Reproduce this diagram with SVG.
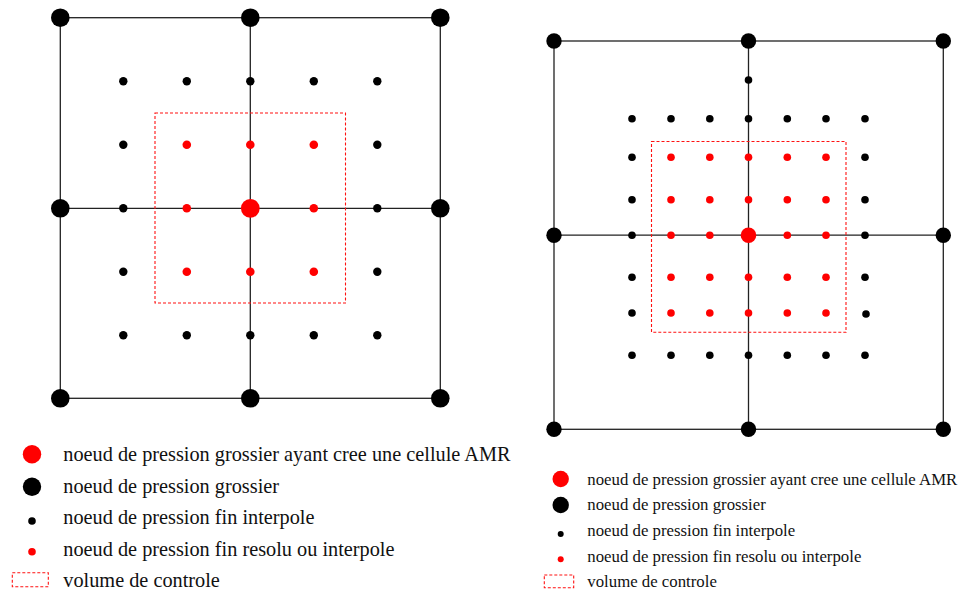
<svg xmlns="http://www.w3.org/2000/svg" width="959" height="592" viewBox="0 0 959 592">
<style>
.ln{stroke:#222;stroke-width:1.3;fill:none}
.cv{stroke:#f11;stroke-width:1.1;fill:none;stroke-dasharray:3 2}
.bk{fill:#000}
.rd{fill:#f00}
.t1{font-family:"Liberation Serif","Times New Roman",serif;font-size:20.3px;fill:#111}
.t2{font-family:"Liberation Serif","Times New Roman",serif;font-size:16.8px;fill:#111}
</style>
<rect width="959" height="592" fill="#fff"/>

<!-- LEFT DIAGRAM -->
<g id="left-grid">
  <rect class="ln" x="60.3" y="17.7" width="380" height="380.6"/>
  <line class="ln" x1="250.3" y1="17.7" x2="250.3" y2="398.3"/>
  <line class="ln" x1="60.3" y1="208.3" x2="440.3" y2="208.3"/>
</g>
<g id="left-control-volume">
  <rect class="cv" x="155" y="113" width="190.5" height="190"/>
</g>
<g id="left-fine-interpolated">
  <circle class="bk" cx="123.3" cy="81.3" r="4.2"/><circle class="bk" cx="186.8" cy="81.3" r="4.2"/><circle class="bk" cx="250.3" cy="81.3" r="4.2"/><circle class="bk" cx="313.8" cy="81.3" r="4.2"/><circle class="bk" cx="377.3" cy="81.3" r="4.2"/>
  <circle class="bk" cx="123.3" cy="144.8" r="4.2"/><circle class="bk" cx="377.3" cy="144.8" r="4.2"/>
  <circle class="bk" cx="123.3" cy="208.3" r="4.2"/><circle class="bk" cx="377.3" cy="208.3" r="4.2"/>
  <circle class="bk" cx="123.3" cy="271.8" r="4.2"/><circle class="bk" cx="377.3" cy="271.8" r="4.2"/>
  <circle class="bk" cx="123.3" cy="335.3" r="4.2"/><circle class="bk" cx="186.8" cy="335.3" r="4.2"/><circle class="bk" cx="250.3" cy="335.3" r="4.2"/><circle class="bk" cx="313.8" cy="335.3" r="4.2"/><circle class="bk" cx="377.3" cy="335.3" r="4.2"/>
</g>
<g id="left-fine-resolved">
  <circle class="rd" cx="186.8" cy="144.8" r="4.3"/><circle class="rd" cx="250.3" cy="144.8" r="4.3"/><circle class="rd" cx="313.8" cy="144.8" r="4.3"/>
  <circle class="rd" cx="186.8" cy="208.3" r="4.3"/><circle class="rd" cx="313.8" cy="208.3" r="4.3"/>
  <circle class="rd" cx="186.8" cy="271.8" r="4.3"/><circle class="rd" cx="250.3" cy="271.8" r="4.3"/><circle class="rd" cx="313.8" cy="271.8" r="4.3"/>
</g>
<g id="left-coarse">
  <circle class="bk" cx="60.3" cy="17.7" r="9.3"/><circle class="bk" cx="250.3" cy="17.7" r="9.3"/><circle class="bk" cx="440.3" cy="17.7" r="9.3"/>
  <circle class="bk" cx="60.3" cy="208.3" r="9.3"/><circle class="bk" cx="440.3" cy="208.3" r="9.3"/>
  <circle class="bk" cx="60.3" cy="398.3" r="9.3"/><circle class="bk" cx="250.3" cy="398.3" r="9.3"/><circle class="bk" cx="440.3" cy="398.3" r="9.3"/>
</g>
<g id="left-amr-node">
  <circle class="rd" cx="250.3" cy="208.3" r="9.4"/>
</g>

<!-- RIGHT DIAGRAM -->
<g id="right-grid">
  <rect class="ln" x="554" y="41" width="389.3" height="388.3"/>
  <line class="ln" x1="748.5" y1="41" x2="748.5" y2="429.3"/>
  <line class="ln" x1="554" y1="235.2" x2="943.3" y2="235.2"/>
</g>
<g id="right-control-volume">
  <rect class="cv" x="651.5" y="141.5" width="194.5" height="190.8"/>
</g>
<g id="right-fine-interpolated">
  <circle class="bk" cx="748.5" cy="80" r="3.8"/>
  <circle class="bk" cx="632" cy="118.7" r="3.8"/><circle class="bk" cx="671" cy="118.7" r="3.8"/><circle class="bk" cx="709.8" cy="118.7" r="3.8"/><circle class="bk" cx="748.5" cy="118.7" r="3.8"/><circle class="bk" cx="787.3" cy="118.7" r="3.8"/><circle class="bk" cx="826" cy="118.7" r="3.8"/><circle class="bk" cx="865" cy="118.7" r="3.8"/>
  <circle class="bk" cx="632" cy="157.3" r="3.8"/><circle class="bk" cx="865" cy="157.3" r="3.8"/>
  <circle class="bk" cx="632" cy="199.7" r="3.8"/><circle class="bk" cx="865" cy="199.7" r="3.8"/>
  <circle class="bk" cx="632" cy="235.2" r="3.8"/><circle class="bk" cx="865" cy="235.2" r="3.8"/>
  <circle class="bk" cx="632" cy="277.3" r="3.8"/><circle class="bk" cx="865" cy="277.3" r="3.8"/>
  <circle class="bk" cx="632" cy="313" r="3.8"/><circle class="bk" cx="866" cy="314" r="3.8"/>
  <circle class="bk" cx="632" cy="355.3" r="3.8"/><circle class="bk" cx="671" cy="355.3" r="3.8"/><circle class="bk" cx="709.8" cy="355.3" r="3.8"/><circle class="bk" cx="748.5" cy="355.3" r="3.8"/><circle class="bk" cx="787.3" cy="355.3" r="3.8"/><circle class="bk" cx="826" cy="355.3" r="3.8"/><circle class="bk" cx="865" cy="355.3" r="3.8"/>
</g>
<g id="right-fine-resolved">
  <circle class="rd" cx="671" cy="157.3" r="3.8"/><circle class="rd" cx="709.8" cy="157.3" r="3.8"/><circle class="rd" cx="748.5" cy="157.3" r="3.8"/><circle class="rd" cx="787.3" cy="157.3" r="3.8"/><circle class="rd" cx="826" cy="157.3" r="3.8"/>
  <circle class="rd" cx="671" cy="199.7" r="3.8"/><circle class="rd" cx="709.8" cy="199.7" r="3.8"/><circle class="rd" cx="748.5" cy="199.7" r="3.8"/><circle class="rd" cx="787.3" cy="199.7" r="3.8"/><circle class="rd" cx="826" cy="199.7" r="3.8"/>
  <circle class="rd" cx="671" cy="235.2" r="3.8"/><circle class="rd" cx="709.8" cy="235.2" r="3.8"/><circle class="rd" cx="787.3" cy="235.2" r="3.8"/><circle class="rd" cx="826" cy="235.2" r="3.8"/>
  <circle class="rd" cx="671" cy="277.3" r="3.8"/><circle class="rd" cx="709.8" cy="277.3" r="3.8"/><circle class="rd" cx="748.5" cy="277.3" r="3.8"/><circle class="rd" cx="787.3" cy="277.3" r="3.8"/><circle class="rd" cx="826" cy="277.3" r="3.8"/>
  <circle class="rd" cx="671" cy="313" r="3.8"/><circle class="rd" cx="709.8" cy="313" r="3.8"/><circle class="rd" cx="748.5" cy="313" r="3.8"/><circle class="rd" cx="787.3" cy="313" r="3.8"/><circle class="rd" cx="826" cy="313" r="3.8"/>
</g>
<g id="right-coarse">
  <circle class="bk" cx="554" cy="41" r="7.7"/><circle class="bk" cx="748.5" cy="41" r="7.7"/><circle class="bk" cx="943.3" cy="41" r="7.7"/>
  <circle class="bk" cx="554" cy="235.2" r="7.7"/><circle class="bk" cx="943.3" cy="235.2" r="7.7"/>
  <circle class="bk" cx="554" cy="429.3" r="7.7"/><circle class="bk" cx="748.5" cy="429.3" r="7.7"/><circle class="bk" cx="943.3" cy="429.3" r="7.7"/>
</g>
<g id="right-amr-node">
  <circle class="rd" cx="748.5" cy="235.2" r="7.8"/>
</g>

<!-- LEFT LEGEND -->
<g id="legend-left">
  <circle class="rd" cx="32" cy="454.3" r="9.2"/>
  <text class="t1" x="63.3" y="461">noeud de pression grossier ayant cree une cellule AMR</text>
  <circle class="bk" cx="32" cy="486.7" r="9.2"/>
  <text class="t1" x="63.3" y="492.5">noeud de pression grossier</text>
  <circle class="bk" cx="32" cy="521" r="3.8"/>
  <text class="t1" x="63.3" y="524">noeud de pression fin interpole</text>
  <circle class="rd" cx="32" cy="551.7" r="3.8"/>
  <text class="t1" x="63.3" y="555.5">noeud de pression fin resolu ou interpole</text>
  <rect class="cv" x="12.3" y="572.7" width="36" height="14"/>
  <text class="t1" x="63.3" y="587">volume de controle</text>
</g>

<!-- RIGHT LEGEND -->
<g id="legend-right">
  <circle class="rd" cx="560.7" cy="479" r="8.2"/>
  <text class="t2" x="587.3" y="484.5">noeud de pression grossier ayant cree une cellule AMR</text>
  <circle class="bk" cx="560.7" cy="505" r="8.2"/>
  <text class="t2" x="587.3" y="510">noeud de pression grossier</text>
  <circle class="bk" cx="560.7" cy="534" r="3"/>
  <text class="t2" x="587.3" y="536">noeud de pression fin interpole</text>
  <circle class="rd" cx="560.7" cy="559.3" r="3"/>
  <text class="t2" x="587.3" y="561.5">noeud de pression fin resolu ou interpole</text>
  <rect class="cv" x="544.3" y="575" width="29.4" height="12.7"/>
  <text class="t2" x="587.3" y="587">volume de controle</text>
</g>
</svg>
